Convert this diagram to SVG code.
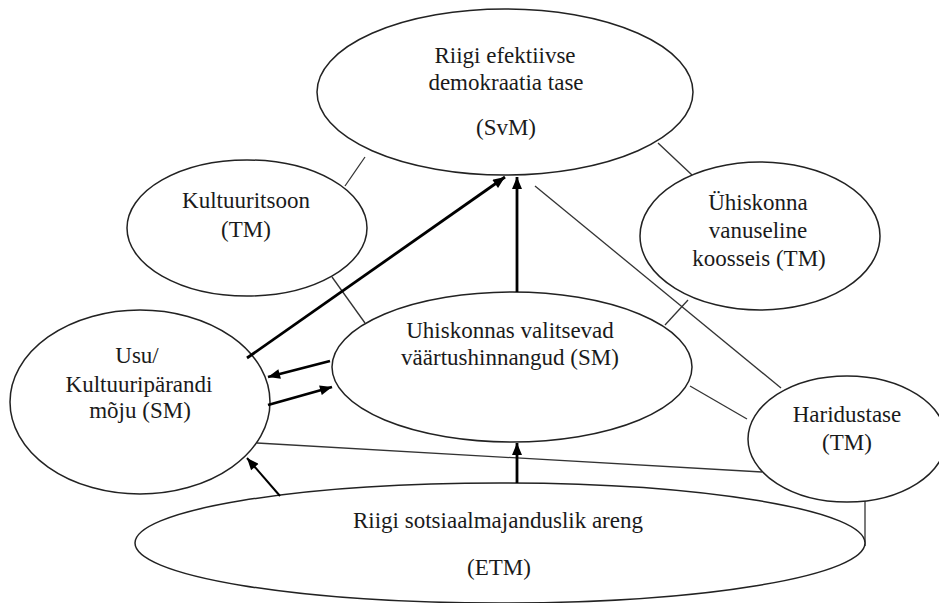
<svg xmlns="http://www.w3.org/2000/svg" width="939" height="603" viewBox="0 0 939 603">
<style>
.node ellipse{fill:#fff;stroke:#222;stroke-width:1.5}
.node text{font-family:"Liberation Serif","Times New Roman",serif;font-size:23px;fill:#1a1a1a;text-anchor:middle}
.thin{stroke:#333;stroke-width:1.3;fill:none}
.thick{stroke:#000;stroke-width:2.8;fill:none}
.mid{stroke:#000;stroke-width:2;fill:none}
</style>
<defs>
<marker id="ah" viewBox="0 0 12 10" refX="12" refY="5" markerWidth="13" markerHeight="10" markerUnits="userSpaceOnUse" orient="auto">
<path d="M0,0 L12,5 L0,10 Z" fill="#000"/>
</marker>
</defs>
<rect width="939" height="603" fill="#fff"/>
<g id="connectors">
<line class="thin" x1="365" y1="157" x2="345" y2="186"/>
<line class="thin" x1="658" y1="143" x2="692" y2="175"/>
<line class="thin" x1="535" y1="186" x2="781" y2="388"/>
<line class="thin" x1="332" y1="277" x2="365" y2="323"/>
<line class="thin" x1="665" y1="325" x2="688" y2="300"/>
<line class="thin" x1="690" y1="386" x2="747" y2="419"/>
<line class="thin" x1="257" y1="443" x2="762" y2="472"/>
<line class="thin" x1="865" y1="501" x2="865" y2="546"/>
</g>
<g id="n-top" class="node">
<ellipse cx="505" cy="92" rx="188" ry="83"/>
<text x="505" y="63">Riigi efektiivse</text>
<text x="506" y="90">demokraatia tase</text>
<text x="506" y="135">(SvM)</text>
</g>
<g id="n-kultuuritsoon" class="node">
<ellipse cx="247" cy="228" rx="120" ry="68"/>
<text x="246" y="208">Kultuuritsoon</text>
<text x="246" y="237">(TM)</text>
</g>
<g id="n-vanus" class="node">
<ellipse cx="760" cy="236" rx="120" ry="74"/>
<text x="758" y="210">Ühiskonna</text>
<text x="758" y="238">vanuseline</text>
<text x="759" y="266">koosseis (TM)</text>
</g>
<g id="n-vaartus" class="node">
<ellipse cx="512" cy="367" rx="180" ry="75"/>
<text x="510" y="338">Uhiskonnas valitsevad</text>
<text x="510" y="365">väärtushinnangud (SM)</text>
</g>
<g id="n-usu" class="node">
<ellipse cx="140" cy="402" rx="130" ry="92"/>
<text x="137" y="363">Usu/</text>
<text x="139" y="392">Kultuuripärandi</text>
<text x="140" y="418">mõju (SM)</text>
</g>
<g id="n-haridus" class="node">
<ellipse cx="847" cy="439" rx="99" ry="63"/>
<text x="847" y="422">Haridustase</text>
<text x="847" y="450">(TM)</text>
</g>
<g id="n-areng" class="node">
<ellipse cx="500" cy="543" rx="365" ry="60"/>
<text x="498" y="528">Riigi sotsiaalmajanduslik areng</text>
<text x="499" y="575">(ETM)</text>
</g>
<g id="arrows">
<line class="thick" x1="247" y1="358" x2="505" y2="177" marker-end="url(#ah)"/>
<line class="thick" x1="517" y1="292" x2="517" y2="177" marker-end="url(#ah)"/>
<line class="thick" x1="330" y1="361" x2="268" y2="377" marker-end="url(#ah)"/>
<line class="thick" x1="268" y1="405" x2="332" y2="387" marker-end="url(#ah)"/>
<line class="mid" x1="280" y1="496" x2="247" y2="458" marker-end="url(#ah)"/>
<line class="thick" x1="517" y1="483" x2="517" y2="443" marker-end="url(#ah)"/>
</g>
</svg>
